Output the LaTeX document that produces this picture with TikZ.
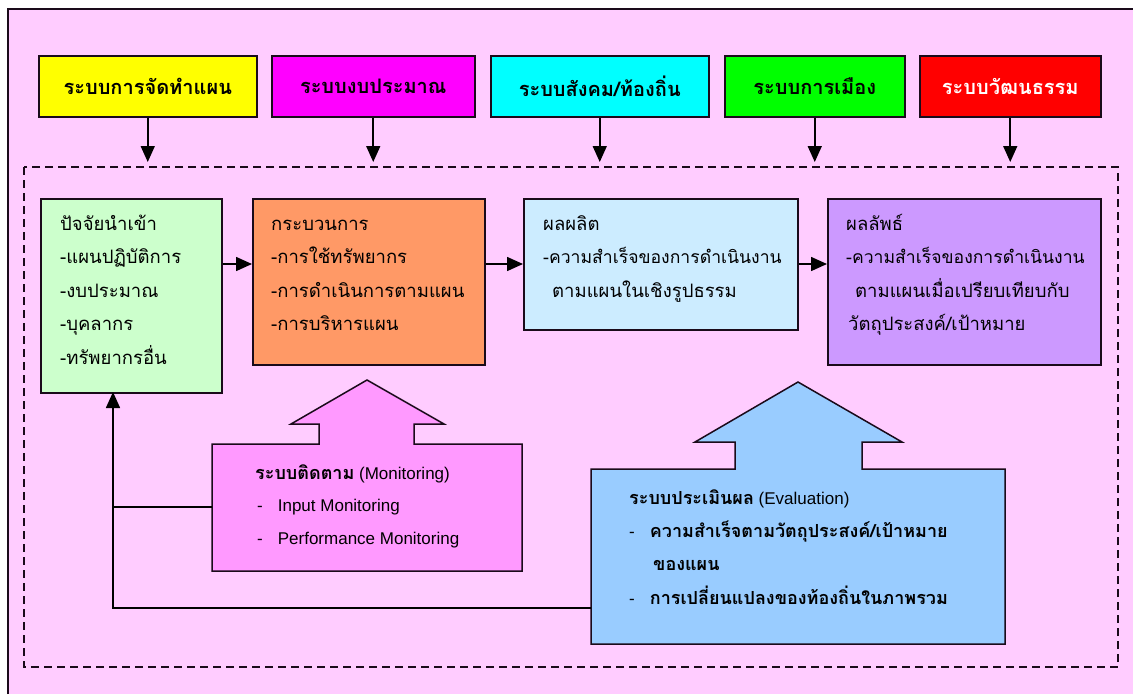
\documentclass[tikz,border=0pt]{standalone}
\usepackage{fontspec}
\setmainfont{Liberation Sans}
\newfontfamily\thai[Script=Thai]{Loma}
\usetikzlibrary{arrows.meta}
\definecolor{bg}{HTML}{FFCCFF}
\definecolor{cyel}{HTML}{FFFF00}
\definecolor{cmag}{HTML}{FF00FF}
\definecolor{ccya}{HTML}{00FFFF}
\definecolor{cgrn}{HTML}{00FF00}
\definecolor{cred}{HTML}{FF0000}
\definecolor{cin}{HTML}{CCFFCC}
\definecolor{cproc}{HTML}{FF9966}
\definecolor{cout}{HTML}{CCECFF}
\definecolor{cres}{HTML}{CC99FF}
\definecolor{cmon}{HTML}{FF99FF}
\definecolor{ceva}{HTML}{99CCFF}
\definecolor{edge}{HTML}{1A0A1A}
\newcommand{\longline}[1]{{\fontsize{17.6}{33.5}\selectfont #1}}
\tikzset{
  topbox/.style={draw=edge, line width=1.5pt, anchor=north west, inner sep=0pt,
    minimum height=61pt, font=\thai\bfseries\fontsize{20}{22}\selectfont},
  midbox/.style={draw=edge, line width=1.5pt, anchor=north west, inner sep=0pt},
  txt/.style={anchor=base west, align=left, inner sep=0pt,
    font=\thai\fontsize{18.5}{33.5}\selectfont},
  arr/.style={draw=black, line width=1.6pt, -{Triangle[width=14pt,length=16pt]}},
  conn/.style={draw=black, line width=1.6pt},
  blockarrow/.style={draw=edge, line width=1.5pt},
}
\begin{document}
\begin{tikzpicture}[x=1pt,y=-1pt]
\useasboundingbox (0,0) rectangle (1133,694);
\fill[white] (0,0) rectangle (1133,694);
\fill[bg] (8,9) rectangle (1133,694);
\draw[line width=1.5pt, draw=edge] (8,694) -- (8,9) -- (1133,9);
% dashed frame
\draw[draw=edge, line width=1.5pt, dash pattern=on 8pt off 5pt] (24,167) rectangle (1118,667);

% top boxes
\node[topbox, fill=cyel, minimum width=218pt] (plan) at (38,55) {ระบบการจัดทำแผน};
\node[topbox, fill=cmag, minimum width=203pt] (budget) at (271,55) {ระบบงบประมาณ};
\node[topbox, fill=ccya, minimum width=218pt] (social) at (490,55) {ระบบสังคม/ท้องถิ่น};
\node[topbox, fill=cgrn, minimum width=180pt] (polit) at (724,55) {ระบบการเมือง};
\node[topbox, fill=cred, minimum width=181pt, text=white] (cult) at (919,55) {ระบบวัฒนธรรม};

\coordinate (dtop) at (0,162);
\foreach \n in {plan,budget,social,polit,cult}
  \draw[arr] (\n.south) -- (\n.south |- dtop);

% middle boxes
\node[midbox, fill=cin, minimum width=181pt, minimum height=194pt] (input) at (40,198) {};
\node[midbox, fill=cproc, minimum width=232pt, minimum height=166pt] (proc) at (252,198) {};
\node[midbox, fill=cout, minimum width=274pt, minimum height=131pt] (outp) at (523,198) {};
\node[midbox, fill=cres, minimum width=273pt, minimum height=166pt] (outc) at (827,198) {};

% anchor base west = baseline of the last line
\node[txt] (tin) at (60,364) {ปัจจัยนำเข้า\\-แผนปฏิบัติการ\\-งบประมาณ\\-บุคลากร\\-ทรัพยากรอื่น};
\node[txt] (tproc) at (271,330.5) {กระบวนการ\\-การใช้ทรัพยากร\\-การดำเนินการตามแผน\\-การบริหารแผน};
\node[txt] (tout) at (543,297) {ผลผลิต\\\longline{-ความสำเร็จของการดำเนินงาน}\\\hspace*{9pt}ตามแผนในเชิงรูปธรรม};
\node[txt] (toutc) at (846,330.5) {ผลลัพธ์\\\longline{-ความสำเร็จของการดำเนินงาน}\\\hspace*{9pt}ตามแผนเมื่อเปรียบเทียบกับ\\\hspace*{2pt}วัตถุประสงค์/เป้าหมาย};

\coordinate (mrow) at (0,264);
\draw[arr] (input.east |- mrow) -- (proc.west |- mrow);
\draw[arr] (proc.east |- mrow) -- (outp.west |- mrow);
\draw[arr] (outp.east |- mrow) -- (outc.west |- mrow);

% monitoring block arrow
\fill[cmon] (212,444) -- (319,444) -- (319,424) -- (291,424) -- (367,380) -- (444,424) -- (414,424) -- (414,444) -- (522,444) -- (522,571) -- (212,571) -- cycle;
\draw[blockarrow] (212,444) -- (319,444) -- (319,424) -- (291,424) -- (367,380) -- (444,424) -- (414,424) -- (414,444) -- (522,444) -- (522,571) -- (212,571) -- cycle;
\node[txt, font=\fontsize{17}{32.5}\selectfont] (tmon) at (255,544) {{\thai\bfseries\fontsize{18}{32.5}\selectfont ระบบติดตาม} (Monitoring)\\\hspace*{2pt}-\hspace{15pt}Input Monitoring\\\hspace*{2pt}-\hspace{15pt}Performance Monitoring};

% evaluation block arrow
\fill[ceva] (591,469) -- (735,469) -- (735,442) -- (695,442) -- (798,382) -- (902,442) -- (862,442) -- (862,469) -- (1005,469) -- (1005,644) -- (591,644) -- cycle;
\draw[blockarrow] (591,469) -- (735,469) -- (735,442) -- (695,442) -- (798,382) -- (902,442) -- (862,442) -- (862,469) -- (1005,469) -- (1005,644) -- (591,644) -- cycle;
\node[txt, font=\fontsize{17}{33.3}\selectfont] (teva) at (629,604) {{\thai\bfseries\fontsize{18}{33.3}\selectfont ระบบประเมินผล} (Evaluation)\\-\hspace{15pt}{\thai\bfseries\fontsize{18}{33.3}\selectfont ความสำเร็จตามวัตถุประสงค์/เป้าหมาย}\\\hspace*{24pt}{\thai\bfseries\fontsize{18}{33.3}\selectfont ของแผน}\\-\hspace{15pt}{\thai\bfseries\fontsize{18}{33.3}\selectfont การเปลี่ยนแปลงของท้องถิ่นในภาพรวม}};

% feedback connectors
\coordinate (evaW) at (591,608);
\coordinate (monW) at (212,507);
\coordinate (junc) at (113,507);
\coordinate (fb) at (113,392);
\draw[arr] (evaW) -| (fb);
\draw[conn] (monW) -- (junc);
\end{tikzpicture}
\end{document}
